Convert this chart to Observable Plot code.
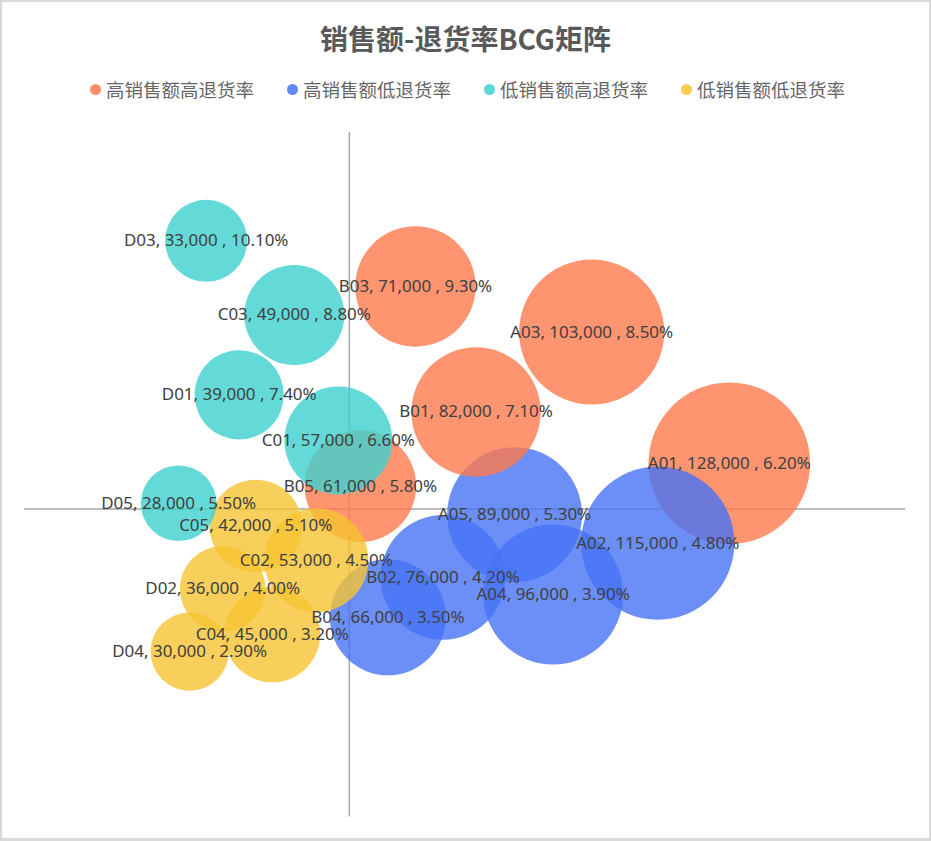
<!DOCTYPE html>
<html>
<head>
<meta charset="utf-8">
<script src="https://cdn.jsdelivr.net/npm/d3@7"></script>
<script src="https://cdn.jsdelivr.net/npm/@observablehq/plot@0.6"></script>
<style>
  html, body { margin: 0; padding: 0; background: #fff; }
  #wrap { position: relative; width: 931px; height: 841px; box-sizing: border-box; border: 2px solid #d9d9d9; border-bottom-width: 3px; overflow: hidden; font-family: "Noto Sans CJK SC", "Noto Sans", sans-serif; }
  #title { position: absolute; left: 0; top: 0; width: 927px; height: 72px; line-height: 72px; text-align: center; font-size: 28px; font-weight: bold; color: #595959; }
  #legend { position: absolute; left: 0; top: 72px; width: 927px; height: 30px; display: flex; justify-content: center; align-items: center; gap: 33px; font-size: 18.5px; color: #666666; padding-left: 4px; box-sizing: border-box; }
  .item { display: flex; align-items: center; gap: 5px; }
  .sw { width: 11px; height: 11px; border-radius: 50%; opacity: 0.85; }
  #chart { position: absolute; left: -2px; top: 101px; }
</style>
</head>
<body>
<div id="wrap">
  <div id="title">销售额-退货率BCG矩阵</div>
  <div id="legend"></div>
  <div id="chart"></div>
</div>
<script>
const seriesNames = ["高销售额高退货率", "高销售额低退货率", "低销售额高退货率", "低销售额低退货率"];
const seriesColors = ["#FF794C", "#4673F5", "#3CD1CE", "#F6C331"];

const names  = ["A01","A03","B01","B03","B05", "A02","A04","A05","B02","B04", "C01","C03","D01","D03","D05", "C02","C04","C05","D02","D04"];
const sales  = [128000,103000,82000,71000,61000, 115000,96000,89000,76000,66000, 57000,49000,39000,33000,28000, 53000,45000,42000,36000,30000];
const rates  = [6.2,8.5,7.1,9.3,5.8, 4.8,3.9,5.3,4.2,3.5, 6.6,8.8,7.4,10.1,5.5, 4.5,3.2,5.1,4.0,2.9];
const groups = [0,0,0,0,0, 1,1,1,1,1, 2,2,2,2,2, 3,3,3,3,3];

const xCross = 59000;  // median sales
const yCross = 5.4;    // median return rate

const data = names.map((n, i) => ({
  name: n, sales: sales[i], rate: rates[i], group: seriesNames[groups[i]],
  label: `${n}, ${d3.format(",")(sales[i])} , ${rates[i].toFixed(2)}%`
}));

// legend
const lg = document.getElementById("legend");
seriesNames.forEach((s, i) => {
  const it = document.createElement("div");
  it.className = "item";
  it.innerHTML = `<span class="sw" style="background:${seriesColors[i]}"></span><span>${s}</span>`;
  lg.appendChild(it);
});

const W = 931, H = 740;
const chart = Plot.plot({
  width: W, height: H,
  marginLeft: 24, marginRight: 24, marginTop: 29, marginBottom: 25,
  x: {domain: [0, 160000], axis: null},
  y: {domain: [0, 12], axis: null},
  r: {type: "sqrt", domain: [0, 128000], range: [0, 81]},
  color: {domain: seriesNames, range: seriesColors},
  style: {fontFamily: "'Noto Sans', 'Noto Sans CJK SC', sans-serif", background: "transparent"},
  marks: [
    Plot.ruleX([xCross], {y1: 0, y2: 12, stroke: "#a6a6a6", strokeWidth: 1.5}),
    Plot.ruleY([yCross], {x1: 0, x2: 160000, stroke: "#a6a6a6", strokeWidth: 1.5}),
    Plot.dot(data, {x: "sales", y: "rate", r: "sales", fill: "group", fillOpacity: 0.8, stroke: null}),
    Plot.text(data, {x: "sales", y: "rate", text: "label", fill: "#404040", fontSize: 17})
  ]
});
document.getElementById("chart").appendChild(chart);
</script>
</body>
</html>
